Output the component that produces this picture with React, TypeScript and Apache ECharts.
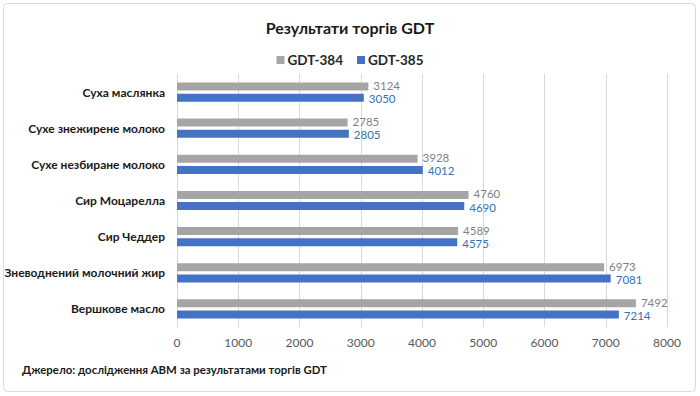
import React, { useEffect, useRef } from "react";
import * as echarts from "echarts";

const categories = [
  "Суха маслянка",
  "Сухе знежирене молоко",
  "Сухе незбиране молоко",
  "Сир Моцарелла",
  "Сир Чеддер",
  "Зневоднений молочний жир",
  "Вершкове масло",
];
const gdt384 = [3124, 2785, 3928, 4760, 4589, 6973, 7492];
const gdt385 = [3050, 2805, 4012, 4690, 4575, 7081, 7214];
const seriesNames = ["GDT-384", "GDT-385"];

const FONT = "Lato, 'Open Sans', sans-serif";

export default function App() {
  const ref = useRef<HTMLDivElement>(null);
  useEffect(() => {
    if (!ref.current) return;
    const chart = echarts.init(ref.current, null, { renderer: "svg" });
    chart.setOption({
      animation: false,
      backgroundColor: "#fff",
      textStyle: { fontFamily: FONT },
      title: {
        text: "Результати торгів GDT",
        left: "center",
        top: 14,
        textStyle: { fontFamily: FONT, fontSize: 16, fontWeight: "bold", color: "#1a1a1a" },
      },
      legend: {
        top: 48,
        left: "center",
        itemWidth: 8,
        itemHeight: 8,
        itemGap: 14,
        icon: "rect",
        data: seriesNames,
        textStyle: { fontFamily: FONT, fontSize: 13.5, fontWeight: "bold", color: "#262626", padding: [0, 0, 0, -2] },
      },
      graphic: [
        {
          type: "rect",
          shape: { x: 3.5, y: 3.5, width: 692, height: 388, r: 4 },
          style: { fill: "none", stroke: "#d9d9d9", lineWidth: 1 },
          silent: true,
        },
        {
          type: "text",
          left: 22,
          top: 364,
          style: {
            text: "Джерело: дослідження АВМ за результатами торгів GDT",
            font: `bold 11.4px ${FONT}`,
            fill: "#1a1a1a",
          },
        },
      ],
      grid: { left: 177, right: 33, top: 74, bottom: 69, outerBoundsMode: "none" },
      xAxis: {
        type: "value",
        min: 0,
        max: 8000,
        interval: 1000,
        axisLine: { show: false },
        axisTick: { show: false },
        splitLine: { lineStyle: { color: "#d9d9d9" } },
        axisLabel: {
          color: "#595959",
          fontSize: 12,
          fontFamily: FONT,
          margin: 9,
          formatter: (v: number) => String(v),
        },
      },
      yAxis: {
        type: "category",
        data: categories,
        inverse: true,
        axisLine: { show: false },
        axisTick: { show: false },
        axisLabel: { color: "#1a1a1a", fontSize: 12, fontWeight: "bold", fontFamily: FONT, margin: 12 },
      },
      series: [
        {
          name: seriesNames[0],
          type: "bar",
          data: gdt384,
          barWidth: 8,
          barGap: "40%",
          itemStyle: { color: "#a5a5a5" },
          label: { show: true, position: "right", distance: 5, color: "#7f7f7f", fontSize: 11.5, fontFamily: FONT, offset: [0, -1] },
        },
        {
          name: seriesNames[1],
          type: "bar",
          data: gdt385,
          barWidth: 8,
          barGap: "40%",
          itemStyle: { color: "#4472c4" },
          label: { show: true, position: "right", distance: 5, color: "#2e75b6", fontSize: 11.5, fontFamily: FONT, offset: [0, 1] },
        },
      ],
    });
    return () => chart.dispose();
  }, []);
  return <div ref={ref} style={{ width: 700, height: 396, position: "absolute", left: 0, top: 0 }} />;
}
